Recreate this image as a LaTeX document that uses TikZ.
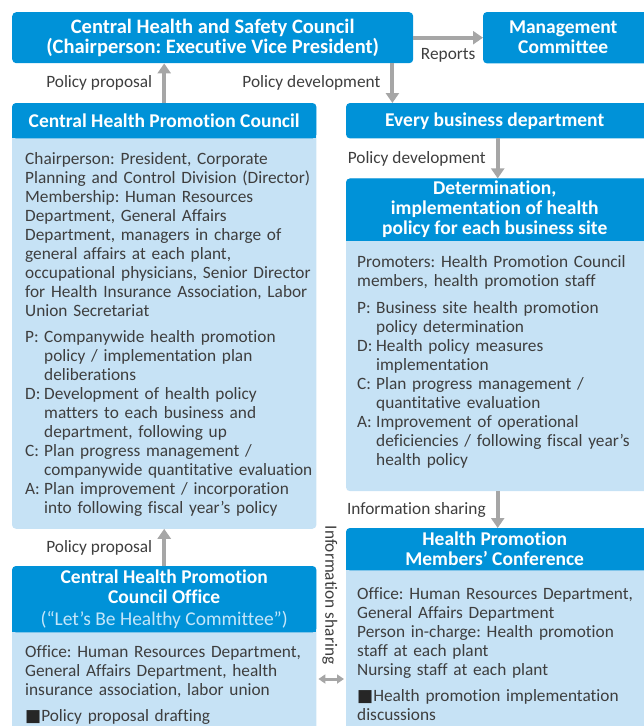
\documentclass[tikz,border=0pt]{standalone}
\usepackage{fontspec}
\setmainfont{Carlito}[Ligatures=CommonOff]
\newfontfamily\symfont{DejaVu Sans}
\usepackage{xcolor}
\usetikzlibrary{arrows.meta,positioning,calc,backgrounds}
\definecolor{hpblue}{RGB}{0,146,216}
\definecolor{hplight}{RGB}{198,226,245}
\definecolor{hpgray}{RGB}{166,166,166}
\definecolor{hptext}{RGB}{62,62,62}
\definecolor{hpsub}{RGB}{196,230,250}
\newcommand{\itm}[1]{\makebox[19pt][l]{#1:}}
\newcommand{\cnt}{\hspace*{19pt}}
\newcommand{\blk}{{\symfont\fontsize{17}{17}\selectfont\color{black!85}■}}
\frenchspacing

\begin{document}
\begin{tikzpicture}[
        x=1pt, y=-1pt,
        every node/.style={font=\fontsize{17.3}{19}\selectfont, text=hptext},
        hd/.style={rectangle, inner sep=0pt, align=center, text=white,
            font=\bfseries\fontsize{19.5}{20}\selectfont},
        hdbox/.style={hd, fill=hpblue, rounded corners=4pt},
        body/.style={rectangle, inner xsep=12pt, inner ysep=0pt, align=left,
            text width=295pt, anchor=north west},
        arr/.style={-{Triangle[width=13pt,length=10pt]}, line width=4pt, hpgray},
        dblarr/.style={{Triangle[width=9pt,length=7pt]}-{Triangle[width=9pt,length=7pt]},
            line width=3pt, hpgray},
        lbl/.style={inner sep=0pt}
    ]
    \useasboundingbox (0,0) rectangle (643,726);
    \clip (0,0) rectangle (643,726);

    % top row
    \node[hdbox, minimum width=401pt, minimum height=51pt, anchor=north west,
        font=\bfseries\fontsize{20.5}{20}\selectfont] (chsc) at (12,12)
        {Central Health and Safety Council\\(Chairperson: Executive Vice President)};
    \node[hd, minimum width=160pt, minimum height=51pt, anchor=north west] (mgmt) at (483,12)
        {Management\\Committee};

    % left column
    \node[hd, minimum width=304pt, minimum height=35pt, anchor=north west] (chpcHead) at (12,103)
        {Central Health Promotion Council};
    \node[body, text height=26pt, text depth=364pt, below right=0pt and 1pt of chpcHead.south west] (chpcBody) {
        Chairperson: President, Corporate\\
        Planning and Control Division (Director)\\
        Membership: Human Resources\\
        Department, General Affairs\\
        Department, managers in charge of\\
        general affairs at each plant,\\
        occupational physicians, Senior Director\\
        for Health Insurance Association, Labor\\
        Union Secretariat\\[7pt]
        \itm{P}Companywide health promotion\\
        \cnt policy / implementation plan\\
        \cnt deliberations\\
        \itm{D}Development of health policy\\
        \cnt matters to each business and\\
        \cnt department, following up\\
        \itm{C}Plan progress management /\\
        \cnt companywide quantitative evaluation\\
        \itm{A}Plan improvement / incorporation\\
        \cnt into following fiscal year’s policy};

    \node[hd, minimum width=304pt, minimum height=66pt, anchor=north west] (chpcoHead) at (12,566)
        {Central Health Promotion\\Council Office\\[2pt]
        {\mdseries\color{hpsub}(“Let’s Be Healthy Committee”)}};
    \node[body, text height=25pt, text depth=90pt, below right=0pt and 1pt of chpcoHead.south west] (chpcoBody) {
        Office: Human Resources Department,\\
        General Affairs Department, health\\
        insurance association, labor union\\[7pt]
        \blk Policy proposal drafting};

    % right column
    \node[hd, minimum width=297pt, minimum height=35pt, anchor=north west] (ebd) at (346,103)
        {Every business department};
    \node[hd, minimum width=297pt, minimum height=62pt, below=40pt of ebd] (detHead)
        {Determination,\\implementation of health\\policy for each business site};
    \node[body, text height=26pt, text depth=224pt, below right=0pt and -1pt of detHead.south west] (detBody) {
        Promoters: Health Promotion Council\\
        members, health promotion staff\\[8pt]
        \itm{P}Business site health promotion\\
        \cnt policy determination\\
        \itm{D}Health policy measures\\
        \cnt implementation\\
        \itm{C}Plan progress management /\\
        \cnt quantitative evaluation\\
        \itm{A}Improvement of operational\\
        \cnt deficiencies / following fiscal year’s\\
        \cnt health policy};

    \node[hd, minimum width=297pt, minimum height=42pt, anchor=north west] (hpmcHead) at (346,528)
        {Health Promotion\\Members’ Conference};
    \node[body, text height=29pt, text depth=150pt, below right=0pt and -1pt of hpmcHead.south west] (hpmcBody) {
        Office: Human Resources Department,\\
        General Affairs Department\\
        Person in-charge: Health promotion\\
        staff at each plant\\
        Nursing staff at each plant\\[7pt]
        \blk Health promotion implementation\\
        discussions};

    % panel fills
    \begin{scope}[on background layer]
        \fill[hplight, rounded corners=4pt] (chpcHead.north west) rectangle (chpcHead.east |- chpcBody.south);
        \fill[hplight, rounded corners=4pt] (chpcoHead.north west) rectangle (chpcoHead.east |- chpcoBody.south);
        \fill[hplight, rounded corners=4pt] (detHead.north west) rectangle ($(detHead.east |- detBody.south)+(10,0)$);
        \fill[hplight, rounded corners=4pt] (hpmcHead.north west) rectangle ($(hpmcHead.east |- hpmcBody.south)+(10,0)$);
        \foreach \h in {chpcHead, chpcoHead} {
            \fill[hpblue, rounded corners=4pt] (\h.north west) rectangle (\h.south east);
            \fill[hpblue] (\h.west) rectangle (\h.south east);
        }
        \foreach \h in {detHead, hpmcHead} {
            \fill[hpblue, rounded corners=4pt] (\h.north west) rectangle ($(\h.south east)+(10,0)$);
            \fill[hpblue] (\h.west) rectangle ($(\h.south east)+(10,0)$);
        }
        \foreach \h in {mgmt, ebd}
            \fill[hpblue, rounded corners=4pt] (\h.north west) rectangle ($(\h.south east)+(10,0)$);
    \end{scope}

    % connectors
    \coordinate (devStart) at ($(chsc.south east)+(-21,0)$);
    \coordinate (shareY) at (0,679);
    \draw[arr] (chsc.east) -- (mgmt.west) node[lbl, midway, below=9pt] (repLbl) {Reports};
    \draw[arr] (chpcHead.north) -- (chpcHead.north |- chsc.south)
        node[lbl, midway, left=10pt] (propLbl) {Policy proposal};
    \draw[arr] (devStart) -- (devStart |- ebd.north)
        node[lbl, midway, left=10pt] (devLbl) {Policy development};
    \draw[arr] ($(ebd.south)+(3,0)$) -- ($(detHead.north)+(3,0)$)
        node[lbl, midway, left=10pt] (devLblB) {Policy development};
    \draw[arr] ($(detHead.south |- detBody.south)+(3,0)$) -- ($(hpmcHead.north)+(3,0)$)
        node[lbl, midway, left=10pt] (shareLblB) {Information sharing};
    \draw[arr] (chpcoHead.north) -- (chpcoHead.north |- chpcBody.south)
        node[lbl, midway, left=10pt] (propLblB) {Policy proposal};

    \node[lbl, rotate=-90] (shareLbl) at (330,595) {Information sharing};
    \draw[dblarr] ($(chpcoHead.east |- shareY)+(2,0)$) -- ($(hpmcHead.west |- shareY)+(-2,0)$);
\end{tikzpicture}
\end{document}
